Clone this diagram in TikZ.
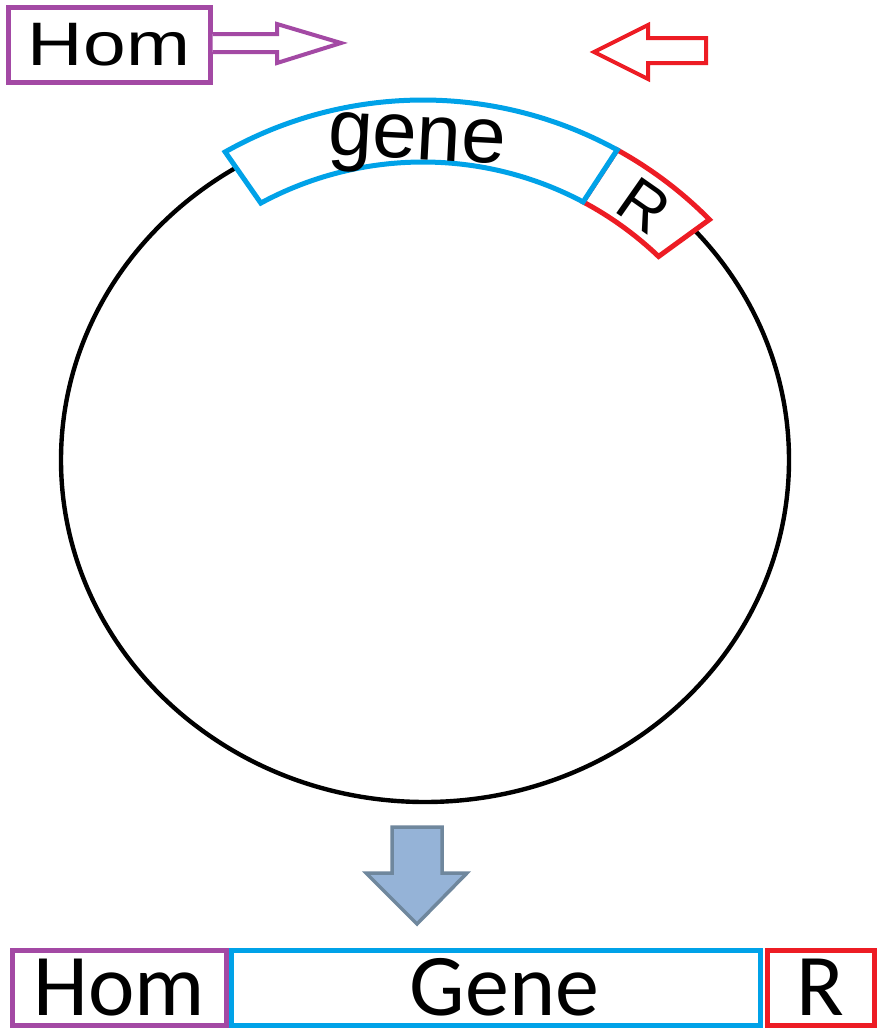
\documentclass[tikz,border=0pt]{standalone}
\usepackage{fontspec}
\usepackage{graphicx}
\setmainfont{Liberation Sans}
\newfontfamily\calib{Carlito}
\definecolor{hompurple}{HTML}{A349A4}
\definecolor{geneblue}{HTML}{00A2E8}
\definecolor{resred}{HTML}{ED1C24}
\definecolor{arrowfill}{HTML}{95B3D7}
\definecolor{arrowedge}{HTML}{6F879D}
\begin{document}
\begin{tikzpicture}[x=0.5pt,y=0.5pt,
  boxline/.style={line width=2.5pt, inner sep=0pt, fill=white},
  botbox/.style={boxline, minimum height=37.5pt, font=\calib\fontsize{44}{44}\selectfont},
  blockarrow/.style={line width=2pt, line join=miter, fill=white},
  band/.style={line width=2.5pt, line join=miter, fill=white}]
\useasboundingbox (0,0) rectangle (877,-1028);
\fill[white] (0,0) rectangle (877,-1028);

% top labels and primer arrows
\node[boxline, draw=hompurple, minimum width=101pt, minimum height=37.5pt,
      font=\fontsize{30.7}{30.7}\selectfont] (homtop) at (109,-44.5) {\scalebox{1.25}[1]{Hom}};
\draw[blockarrow, draw=hompurple] (homtop.east |- 0,-34) -- (277,-34) -- (277,-24) -- (341,-43)
      -- (277,-63) -- (277,-52) -- (homtop.east |- 0,-52);
\draw[blockarrow, draw=resred] (594,-52) -- (648,-25) -- (648,-38) -- (706,-38) -- (706,-63)
      -- (648,-63) -- (648,-79) -- cycle;

% plasmid
\coordinate (pc) at (425,-460);
\draw[line width=2.2pt] (pc) ellipse [x radius=364, y radius=342];
\coordinate (bc) at (423,-503);
\draw[band, draw=resred] ([shift={(61.2:403)}]bc) arc[start angle=61.2, end angle=44.7, radius=403]
      -- ([shift={(46.3:341)}]bc) arc[start angle=46.3, end angle=62, radius=341] -- cycle;
\draw[band, draw=geneblue] ([shift={(119.4:403)}]bc) arc[start angle=119.4, end angle=61.2, radius=403]
      -- ([shift={(62:341)}]bc) arc[start angle=62, end angle=118.4, radius=341] -- cycle;
\node[font=\fontsize{40}{40}\selectfont, rotate=-3, anchor=base, inner sep=0pt] (genetxt) at (416,-159) {gene};
\node[font=\fontsize{32}{32}\selectfont, rotate=-35, inner sep=0pt] (rtxt) at (644,-206) {R};

% down arrow
\draw[line width=1.75pt, line join=miter, fill=arrowfill, draw=arrowedge]
  (392,-827) -- (442,-827) -- (442,-873) -- (467,-873) -- (417,-924) -- (366,-873) -- (392,-873) -- cycle;

% result construct
\node[botbox, draw=hompurple, minimum width=107pt] (hombot) at (119,-987.5) {Hom};
\node[botbox, draw=geneblue, minimum width=264.5pt] (genebot) at (495.5,-987.5) {\hspace*{9pt}Gene};
\node[botbox, draw=resred, minimum width=53.5pt] (rbot) at (820.5,-987.5) {R};
\end{tikzpicture}
\end{document}
